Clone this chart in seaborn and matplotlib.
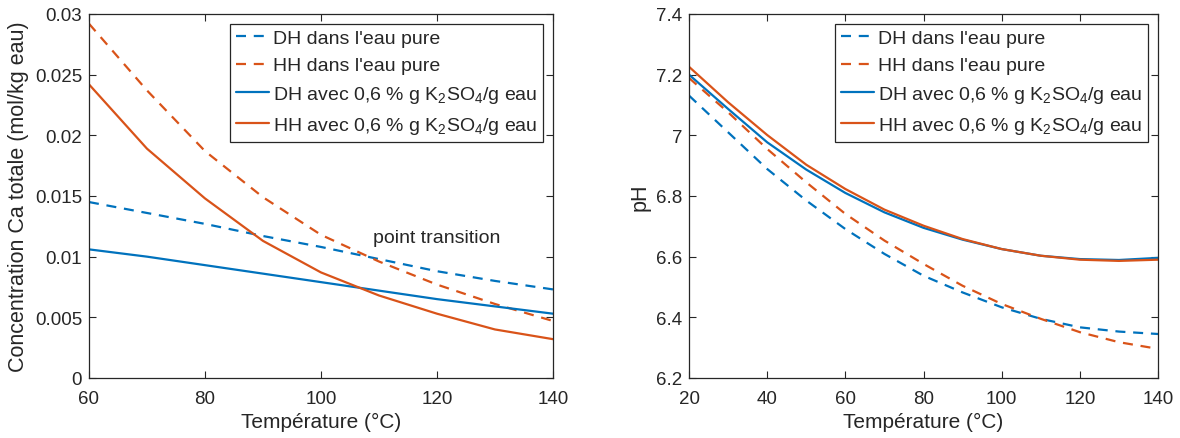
import numpy as np
import pandas as pd
import seaborn as sns
import matplotlib
matplotlib.use('Agg')
import matplotlib.pyplot as plt
from matplotlib.ticker import FormatStrFormatter

# donnees
temp_ca = [60, 70, 80, 90, 100, 110, 120, 130, 140]
dh_pure_ca = [0.0145, 0.0136, 0.0127, 0.0117, 0.0108, 0.0098, 0.0088, 0.0080, 0.0073]
hh_pure_ca = [0.0292, 0.0237, 0.0187, 0.0149, 0.0118, 0.0096, 0.0077, 0.0061, 0.0047]
dh_k2so4_ca = [0.0106, 0.0100, 0.0093, 0.0086, 0.0079, 0.0072, 0.0065, 0.0059, 0.0053]
hh_k2so4_ca = [0.0242, 0.0189, 0.0148, 0.0113, 0.0087, 0.0068, 0.0053, 0.0040, 0.0032]

temp_ph = [20, 30, 40, 50, 60, 70, 80, 90, 100, 110, 120, 130, 140]
dh_pure_ph = [7.131, 7.010, 6.889, 6.785, 6.691, 6.609, 6.537, 6.482, 6.433, 6.395, 6.367, 6.353, 6.345]
hh_pure_ph = [7.189, 7.076, 6.955, 6.845, 6.741, 6.653, 6.576, 6.504, 6.444, 6.395, 6.351, 6.318, 6.296]
dh_k2so4_ph = [7.200, 7.087, 6.977, 6.887, 6.810, 6.746, 6.695, 6.656, 6.625, 6.603, 6.592, 6.589, 6.596]
hh_k2so4_ph = [7.226, 7.109, 7.001, 6.903, 6.823, 6.755, 6.702, 6.658, 6.625, 6.603, 6.590, 6.586, 6.590]

labels = ["DH dans l'eau pure", "HH dans l'eau pure",
          "DH avec 0,6 % g K$_2$SO$_4$/g eau", "HH avec 0,6 % g K$_2$SO$_4$/g eau"]

bleu = '#0072BD'
orange = '#D95319'
gris = '#262626'

sns.set_style('ticks')
plt.rcParams['font.family'] = ['Liberation Sans', 'DejaVu Sans']
plt.rcParams['mathtext.default'] = 'regular'
plt.rcParams['mathtext.fontset'] = 'custom'
plt.rcParams['mathtext.rm'] = 'Liberation Sans'
plt.rcParams['axes.edgecolor'] = gris
plt.rcParams['xtick.color'] = gris
plt.rcParams['ytick.color'] = gris

fig = plt.figure(figsize=(11.8, 4.39), dpi=100)
ax1 = fig.add_axes([0.0754, 0.1367, 0.3932, 0.8292])
ax2 = fig.add_axes([0.5839, 0.1367, 0.3975, 0.8292])


def tracer(ax, x, series):
    styles = [(bleu, '--'), (orange, '--'), (bleu, '-'), (orange, '-')]
    for y, (c, ls), lab in zip(series, styles, labels):
        df = pd.DataFrame({'x': x, 'y': y})
        kw = {}
        if ls == '--':
            kw['dashes'] = (4.5, 3.5)
        sns.lineplot(data=df, x='x', y='y', ax=ax, color=c, linewidth=1.6,
                     label=lab, **kw)
    leg = ax.legend(loc='upper right', fontsize=14, handlelength=1.7,
                    handletextpad=0.2, borderpad=0.3, labelspacing=0.5,
                    fancybox=False, framealpha=1, borderaxespad=0.5)
    leg.get_frame().set_edgecolor(gris)
    leg.get_frame().set_linewidth(0.9)
    for sp in ax.spines.values():
        sp.set_visible(True)
        sp.set_linewidth(0.9)
    ax.tick_params(direction='in', length=5, width=0.8, top=True, right=True,
                   labelsize=13.5)
    ax.tick_params(axis='x', pad=9)
    ax.tick_params(axis='y', pad=5)
    ax.set_xlabel('Température (°C)', fontsize=15, color=gris, labelpad=3)
    ax.yaxis.set_major_formatter(FormatStrFormatter('%g'))


tracer(ax1, temp_ca, [dh_pure_ca, hh_pure_ca, dh_k2so4_ca, hh_k2so4_ca])
ax1.set_xlim(60, 140)
ax1.set_ylim(0, 0.03)
ax1.set_xticks([60, 80, 100, 120, 140])
ax1.set_yticks([0, 0.005, 0.01, 0.015, 0.02, 0.025, 0.03])
ax1.set_ylabel('Concentration Ca totale (mol/kg eau)', fontsize=15.5, color=gris, labelpad=4)
ax1.text(109, 0.0116, 'point transition', fontsize=14, color=gris, va='center')

tracer(ax2, temp_ph, [dh_pure_ph, hh_pure_ph, dh_k2so4_ph, hh_k2so4_ph])
ax2.set_xlim(20, 140)
ax2.set_ylim(6.2, 7.4)
ax2.set_xticks([20, 40, 60, 80, 100, 120, 140])
ax2.set_yticks([6.2, 6.4, 6.6, 6.8, 7.0, 7.2, 7.4])
ax2.set_ylabel('pH', fontsize=15.5, color=gris, labelpad=4)

fig.savefig('out.png', dpi=100)
